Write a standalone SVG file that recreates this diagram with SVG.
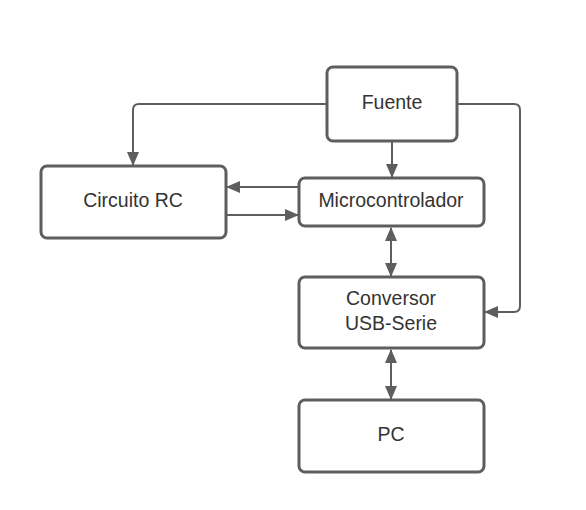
<svg xmlns="http://www.w3.org/2000/svg" width="586" height="510" viewBox="0 0 586 510">
<style>
.box{fill:#fff;stroke:#5e5e5e;stroke-width:3}
.ln{fill:none;stroke:#5e5e5e;stroke-width:2}
.t{font-family:"Liberation Sans",Arial,sans-serif;font-size:19.5px;fill:#333;text-anchor:middle}
</style>
<defs>
<marker id="ah" viewBox="0 0 14 12" refX="13" refY="6" markerWidth="14" markerHeight="12" markerUnits="userSpaceOnUse" orient="auto-start-reverse">
<path d="M0,0 L14,6 L0,12 Z" fill="#5e5e5e"/>
</marker>
</defs>
<rect width="586" height="510" fill="#fff"/>
<g id="connectors">
<path class="ln" d="M327,104 H139 Q133,104 133,110 V165" marker-end="url(#ah)"/>
<path class="ln" d="M457,104 H514 Q520,104 520,110 V306 Q520,312 514,312 H485" marker-end="url(#ah)"/>
<path class="ln" d="M392,141 V177" marker-end="url(#ah)"/>
<path class="ln" d="M299,187 H227" marker-end="url(#ah)"/>
<path class="ln" d="M226,215 H298" marker-end="url(#ah)"/>
<path class="ln" d="M391,228 V276" marker-start="url(#ah)" marker-end="url(#ah)"/>
<path class="ln" d="M391,350 V399" marker-start="url(#ah)" marker-end="url(#ah)"/>
</g>
<g id="fuente"><rect class="box" x="327" y="67" width="130" height="74" rx="6"/><text class="t" x="392" y="109">Fuente</text></g>
<g id="circuito"><rect class="box" x="41" y="166" width="185" height="72" rx="6"/><text class="t" x="133" y="207">Circuito RC</text></g>
<g id="micro"><rect class="box" x="299" y="178" width="185" height="48" rx="6"/><text class="t" x="391" y="207">Microcontrolador</text></g>
<g id="conversor"><rect class="box" x="299" y="277" width="185" height="71" rx="6"/><text class="t" x="391" y="305">Conversor</text><text class="t" x="391" y="330">USB-Serie</text></g>
<g id="pc"><rect class="box" x="299" y="400" width="185" height="72" rx="6"/><text class="t" x="391" y="441">PC</text></g>
</svg>
